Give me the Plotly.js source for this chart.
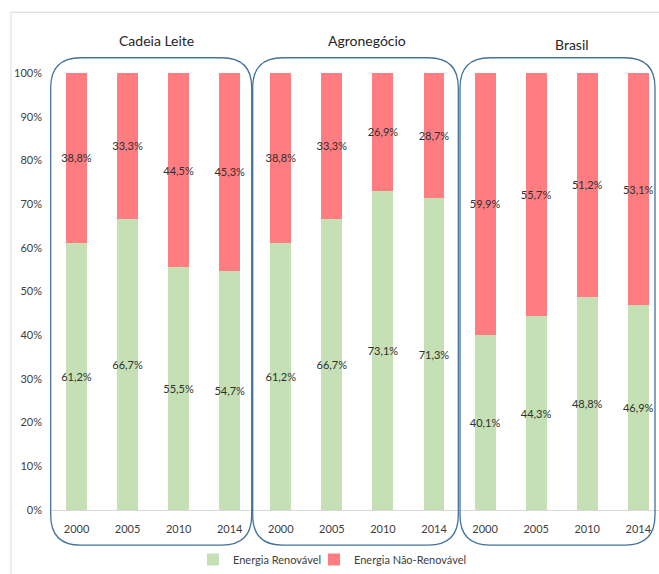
<!DOCTYPE html>
<html>
<head>
<meta charset="utf-8">
<script src="https://cdn.plot.ly/plotly-3.0.1.min.js"></script>
<style>
  html, body { margin: 0; padding: 0; background: #ffffff; overflow: hidden; }
  #chart { width: 659px; height: 574px; }
</style>
</head>
<body>
<div id="chart"></div>
<script>
// Energy mix by sector and year (share of total, %)
const groups = ["Cadeia Leite", "Agronegócio", "Brasil"];
const years = ["2000", "2005", "2010", "2014"];
const renovavel = [61.2, 66.7, 55.5, 54.7, 61.2, 66.7, 73.1, 71.3, 40.1, 44.3, 48.8, 46.9];
const naoRenovavel = [38.8, 33.3, 44.5, 45.3, 38.8, 33.3, 26.9, 28.7, 59.9, 55.7, 51.2, 53.1];
const seriesNames = ["Energia Renovável", "Energia Não-Renovável"];
const yTicks = [0, 10, 20, 30, 40, 50, 60, 70, 80, 90, 100];

// Plot geometry (pixels)
const W = 659, H = 574;
const M = { l: 51, r: 0, t: 73, b: 62 };
const plotW = W - M.l - M.r;
const plotH = H - M.t - M.b;
const px2x = px => (px - M.l) / plotW;
const px2y = py => (H - M.b - py) / plotH;

// one slot per (group, year); tick text repeats the years
const xs = [];
const tickText = [];
groups.forEach((g, gi) => years.forEach((y, yi) => {
  xs.push(gi * years.length + yi);
  tickText.push(y);
}));

const fmt = v => v.toFixed(1).replace('.', ',') + '%';
const baseFont = 'Lato, "Open Sans", sans-serif';
const labelFont = { family: baseFont, size: 11, color: '#303030' };

const barCommon = {
  type: 'bar',
  x: xs,
  width: 0.41,
  textposition: 'inside',
  insidetextanchor: 'middle',
  textangle: 0,
  constraintext: 'none',
  textfont: labelFont,
  insidetextfont: labelFont,
  hoverinfo: 'skip'
};

const traces = [
  Object.assign({}, barCommon, {
    name: seriesNames[0],
    legend: 'legend',
    y: renovavel,
    text: renovavel.map(fmt),
    marker: { color: '#c5e0b4', line: { width: 0 } }
  }),
  Object.assign({}, barCommon, {
    name: seriesNames[1],
    legend: 'legend2',
    y: naoRenovavel,
    text: naoRenovavel.map(fmt),
    marker: { color: '#ff7c80', line: { width: 0 } }
  })
];

// rounded outline around each group, drawn in paper units from pixel corners
function roundedBox(x0, y0, x1, y1, r) {
  const X0 = px2x(x0), X1 = px2x(x1), Y0 = px2y(y1), Y1 = px2y(y0);
  const rx = r / plotW, ry = r / plotH;
  const p = [
    `M${X0 + rx},${Y1}`,
    `L${X1 - rx},${Y1}`,
    `Q${X1},${Y1} ${X1},${Y1 - ry}`,
    `L${X1},${Y0 + ry}`,
    `Q${X1},${Y0} ${X1 - rx},${Y0}`,
    `L${X0 + rx},${Y0}`,
    `Q${X0},${Y0} ${X0},${Y0 + ry}`,
    `L${X0},${Y1 - ry}`,
    `Q${X0},${Y1} ${X0 + rx},${Y1}`,
    'Z'
  ].join(' ');
  return {
    type: 'path', xref: 'paper', yref: 'paper', path: p,
    line: { color: '#41719c', width: 1.3 }, fillcolor: 'rgba(0,0,0,0)', layer: 'above'
  };
}

const boxes = [
  [50.7, 57.7, 251.7, 547.3],
  [252.7, 57.7, 458.3, 547.3],
  [460.0, 57.7, 655.0, 547.3]
];

const shapes = boxes.map(b => roundedBox(b[0], b[1], b[2], b[3], 30));
// light outer frame of the chart area
shapes.push({
  type: 'rect', xref: 'paper', yref: 'paper',
  x0: px2x(11), x1: px2x(700), y0: px2y(620), y1: px2y(12),
  line: { color: '#d9d9d9', width: 1 }, fillcolor: 'rgba(0,0,0,0)', layer: 'below'
});

const titlePos = [[156, 40], [367, 40], [572, 44]];
const annotations = groups.map((g, i) => ({
  text: g, xref: 'paper', yref: 'paper',
  x: px2x(titlePos[i][0]), y: px2y(titlePos[i][1]),
  xanchor: 'center', yanchor: 'middle', showarrow: false,
  font: { family: baseFont, size: 14, color: '#262626' }
}));

const legendBase = {
  orientation: 'h',
  xanchor: 'left',
  y: px2y(562), yanchor: 'middle',
  font: { family: baseFont, size: 11, color: '#404040' },
  itemwidth: 30,
  bgcolor: 'rgba(0,0,0,0)'
};

const layout = {
  width: W, height: H,
  margin: M,
  paper_bgcolor: '#ffffff',
  plot_bgcolor: '#ffffff',
  barmode: 'stack',
  showlegend: true,
  legend: Object.assign({}, legendBase, { x: px2x(193) }),
  legend2: Object.assign({}, legendBase, { x: px2x(314) }),
  xaxis: {
    range: [-0.5, -0.5 + plotW / 51.07],
    tickvals: xs,
    ticktext: tickText,
    ticks: '',
    showgrid: false,
    zeroline: false,
    showline: true,
    linecolor: '#d9d9d9',
    linewidth: 1,
    ticklabelstandoff: 9,
    tickfont: { family: baseFont, size: 11, color: '#404040' },
    fixedrange: true
  },
  yaxis: {
    range: [0, 100],
    tickvals: yTicks,
    ticktext: yTicks.map(v => v + '%'),
    ticks: '',
    showgrid: false,
    zeroline: false,
    showline: false,
    ticklabelstandoff: 8,
    tickfont: { family: baseFont, size: 11, color: '#404040' },
    fixedrange: true
  },
  shapes: shapes,
  annotations: annotations
};

Plotly.newPlot('chart', traces, layout, { displayModeBar: false, staticPlot: true });
</script>
</body>
</html>
